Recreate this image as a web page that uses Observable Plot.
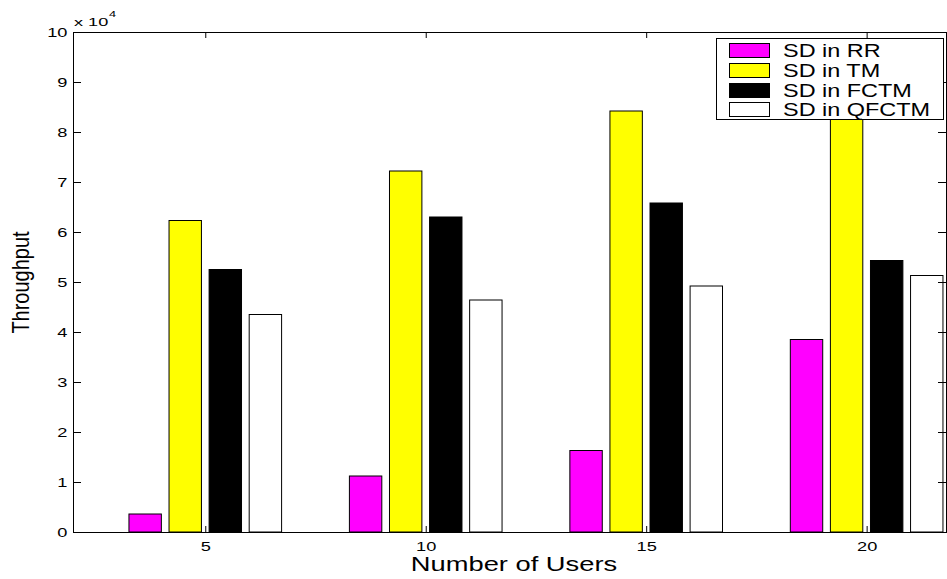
<!DOCTYPE html>
<html>
<head>
<meta charset="utf-8">
<script src="https://cdn.jsdelivr.net/npm/d3@7"></script>
<script src="https://cdn.jsdelivr.net/npm/@observablehq/plot@0.6"></script>
<style>
  body { margin: 0; background: #fff; }
  #wrap { position: relative; width: 947px; height: 579px; font-family: "Liberation Sans", Arial, sans-serif; }
  #legend { position: absolute; left: 716px; top: 38px; width: 228px; height: 82px; border: 1px solid #000; background: #fff; box-sizing: border-box; }
  .row { position: absolute; left: 12px; height: 14px; }
  .sw { position: absolute; left: 0; top: 0; width: 41px; height: 15px; border: 1px solid #000; box-sizing: border-box; }
  .lab { position: absolute; left: 54px; top: -2px; font-size: 18.6px; line-height: 20.8px; white-space: nowrap; color: #000; transform: scaleX(1.26); transform-origin: 0 0; }
</style>
</head>
<body>
<div id="wrap"></div>
<script>
// ---- data ----
const users = [5, 10, 15, 20];
const seriesNames = ["SD in RR", "SD in TM", "SD in FCTM", "SD in QFCTM"];
const rr = [3600, 11200, 16300, 38500];
const tm = [62300, 72200, 84200, 92000];
const fctm = [52500, 63000, 65800, 54300];
const qfctm = [43500, 46400, 49200, 51300];
const colors = ["#ff00ff", "#ffff00", "#000000", "#ffffff"];
const yTicks = [0, 10000, 20000, 30000, 40000, 50000, 60000, 70000, 80000, 90000, 100000];

const seriesValues = [rr, tm, fctm, qfctm];
const table = users.flatMap((u, i) =>
  seriesValues.map((vals, j) => ({users: u, series: seriesNames[j], j, value: vals[i]}))
);

const W = 947, H = 579, mL = 73, mR = 1, mT = 32, mB = 47;
const innerW = W - mL - mR, innerH = H - mT - mB;
const step = 0.909, barW = 0.735;
const font = "Liberation Sans, Arial, sans-serif";

const plot = Plot.plot({
  width: W, height: H,
  marginLeft: mL, marginRight: mR, marginTop: mT, marginBottom: mB,
  style: {fontFamily: font, fontSize: "13.5px", color: "#000", background: "#fff"},
  x: {domain: [2, 21.8]},
  y: {domain: [0, 100000]},
  color: {domain: seriesNames, range: colors},
  marks: [
    Plot.rectY(table, {
      x1: d => d.users + (d.j - 1.5) * step - barW / 2,
      x2: d => d.users + (d.j - 1.5) * step + barW / 2,
      y1: 0, y2: "value",
      fill: "series", stroke: "#000", strokeWidth: 1
    }),
    // inward ticks (MATLAB style)
    Plot.ruleY(yTicks.slice(1, -1), {insetRight: innerW - 8, stroke: "#000", strokeWidth: 1}),
    Plot.ruleY(yTicks.slice(1, -1), {insetLeft: innerW - 8, stroke: "#000", strokeWidth: 1}),
    Plot.ruleX(users, {insetTop: innerH - 6, stroke: "#000", strokeWidth: 1}),
    Plot.ruleX(users, {insetBottom: innerH - 6, stroke: "#000", strokeWidth: 1}),
    Plot.frame({stroke: "#000", strokeWidth: 1}),
    Plot.axisY({ticks: yTicks, tickFormat: d => d / 10000, tickSize: 0, tickPadding: 6, fontSize: 13.5, label: null}),
    Plot.axisX({ticks: users, tickFormat: d => d, tickSize: 0, tickPadding: 9, fontSize: 13.5, label: null}),
    Plot.text(["x 10"], {frameAnchor: "top-left", textAnchor: "start", lineAnchor: "bottom", dx: 0.5, dy: -7, fontSize: 11}),
    Plot.text(["4"], {frameAnchor: "top-left", textAnchor: "start", lineAnchor: "bottom", dx: 35.5, dy: -16, fontSize: 8.5}),
    Plot.text(["Number of Users"], {frameAnchor: "bottom", lineAnchor: "top", dx: 4, dy: 25, fontSize: 19.5}),
    Plot.text(["Throughput"], {frameAnchor: "left", rotate: -90, textAnchor: "middle", lineAnchor: "middle", dx: -52, dy: 0, fontSize: 20})
  ]
});

function stretchEl(t, s) {
  const tr = t.getAttribute("transform") || "";
  const m = tr.match(/^translate\([^)]*\)/);
  if (m) {
    t.setAttribute("transform", m[0] + ` scale(${s},1)` + tr.slice(m[0].length));
  } else {
    const xa = t.getAttribute("x");
    const x = xa && !/em$/.test(xa) ? parseFloat(xa) : 0;
    if (x) t.removeAttribute("x");
    t.setAttribute("transform", `translate(${x},0) scale(${s},1) ${tr}`.trim());
  }
}
plot.querySelectorAll('g[aria-label="y-axis tick label"] text').forEach(t => stretchEl(t, 1.35));
plot.querySelectorAll('g[aria-label="x-axis tick label"] text').forEach(t => stretchEl(t, 1.35));
const factors = {"x 10": 1.65, "4": 1.5, "Number of Users": 1.4, "Throughput": 1.2};
plot.querySelectorAll('g[aria-label="text"] text').forEach(t => {
  const s = factors[t.textContent];
  if (s) stretchEl(t, s);
});

const wrap = document.getElementById("wrap");
wrap.appendChild(plot);

// legend
const legend = document.createElement("div");
legend.id = "legend";
const rowTops = [4, 24, 43.5, 63];
seriesNames.forEach((name, j) => {
  const row = document.createElement("div");
  row.className = "row";
  row.style.top = rowTops[j] + "px";
  const sw = document.createElement("div");
  sw.className = "sw";
  sw.style.background = colors[j];
  const lab = document.createElement("div");
  lab.className = "lab";
  lab.textContent = name;
  row.appendChild(sw);
  row.appendChild(lab);
  legend.appendChild(row);
});
wrap.appendChild(legend);
</script>
</body>
</html>
